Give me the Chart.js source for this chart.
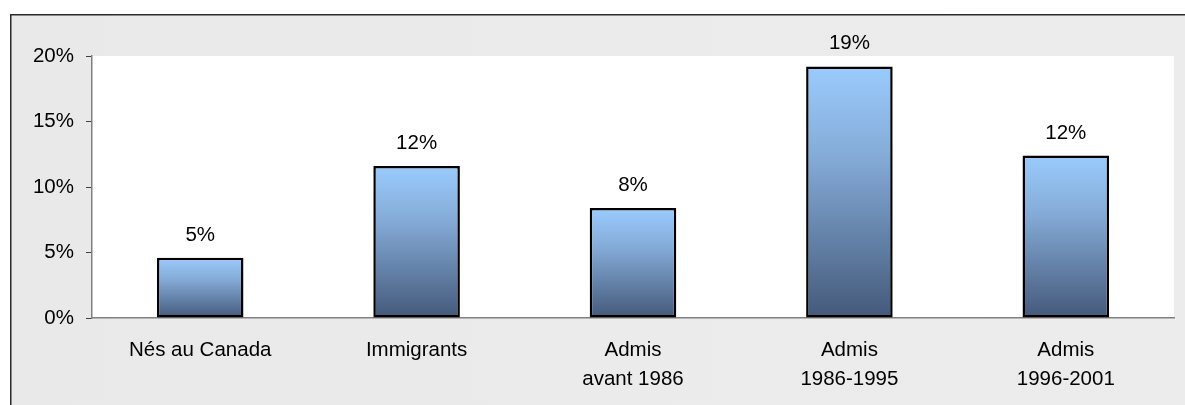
<!DOCTYPE html>
<html><head><meta charset="utf-8">
<script src="https://cdn.jsdelivr.net/npm/chart.js@4/dist/chart.umd.min.js"></script>
<style>html,body{margin:0;padding:0;background:#fff}#wrap{width:1185px;height:405px;position:relative}</style>
</head><body><div id="wrap"><canvas id="c" width="1185" height="405"></canvas></div>
<script>
const categories = [["Nés au Canada"], ["Immigrants"], ["Admis", "avant 1986"], ["Admis", "1986-1995"], ["Admis", "1996-2001"]];
const values = [4.6, 11.6, 8.4, 19.2, 12.4];
const valueLabels = ["5%", "12%", "8%", "19%", "12%"];
const yTickValues = [0, 5, 10, 15, 20];

const FONT = "'Liberation Sans', Arial, sans-serif";

const bgPlugin = {
  id: 'bg',
  beforeDraw(chart) {
    const c = chart.ctx, W = chart.width, H = chart.height, a = chart.chartArea;
    c.save();
    c.fillStyle = '#ffffff';
    c.fillRect(0, 0, W, H);
    const g = c.createLinearGradient(10, 0, W, 0);
    g.addColorStop(0, '#e9e9e9');
    g.addColorStop(0.5, '#ebebeb');
    g.addColorStop(1, '#ececec');
    c.fillStyle = g;
    c.fillRect(10, 14, W - 10, H - 14);
    c.strokeStyle = '#2a2a2a';
    c.lineWidth = 1.5;
    c.beginPath();
    c.moveTo(10.75, H + 2);
    c.lineTo(10.75, 14.75);
    c.lineTo(W + 2, 14.75);
    c.stroke();
    c.fillStyle = '#ffffff';
    c.fillRect(a.left, a.top, a.right - a.left, a.bottom - a.top);
    c.restore();
  }
};

const labelPlugin = {
  id: 'valLabels',
  afterDatasetsDraw(chart) {
    const c = chart.ctx;
    const meta = chart.getDatasetMeta(0);
    c.save();
    c.font = '20.5px ' + FONT;
    c.fillStyle = '#000';
    c.textAlign = 'center';
    c.textBaseline = 'alphabetic';
    meta.data.forEach((el, i) => {
      c.fillText(valueLabels[i], el.x, el.y - 17);
    });
    c.restore();
  }
};

new Chart(document.getElementById('c'), {
  type: 'bar',
  data: {
    labels: categories,
    datasets: [{
      data: values,
      backgroundColor: (ctx) => {
        const ch = ctx.chart;
        if (!ch.chartArea || ctx.raw === undefined) return '#7fa8d8';
        const y = ch.scales.y;
        const top = y.getPixelForValue(ctx.raw);
        const bot = y.getPixelForValue(0);
        const g = ch.ctx.createLinearGradient(0, top, 0, bot);
        g.addColorStop(0, '#9acbfd');
        g.addColorStop(0.35, '#85acd8');
        g.addColorStop(1, '#44597a');
        return g;
      },
      borderColor: '#000000',
      borderWidth: 2.5,
      borderSkipped: false,
      barPercentage: 0.4,
      categoryPercentage: 1.0
    }]
  },
  options: {
    responsive: false,
    animation: false,
    devicePixelRatio: 1,
    layout: { padding: { left: 0, top: 56, right: 11, bottom: 0 } },
    plugins: { legend: { display: false }, tooltip: { enabled: false } },
    scales: {
      x: {
        grid: { display: false, drawTicks: false },
        border: { display: true, color: '#808080', width: 1.5 },
        ticks: {
          color: '#000',
          padding: 17,
          maxRotation: 0,
          autoSkip: false,
          font: { family: FONT, size: 20.5, lineHeight: 1.45 }
        },
        afterFit(scale) { scale.height = 87; }
      },
      y: {
        min: 0,
        max: 20,
        afterBuildTicks(scale) { scale.ticks = yTickValues.map(v => ({ value: v })); },
        grid: { display: true, drawOnChartArea: false, drawTicks: true, tickLength: 6, color: '#404040' },
        border: { display: true, color: '#808080', width: 1.5 },
        ticks: {
          color: '#000',
          padding: 12,
          font: { family: FONT, size: 20.5 },
          callback: (v) => v + '%'
        },
        afterFit(scale) { scale.width = 92; }
      }
    }
  },
  plugins: [bgPlugin, labelPlugin]
});
</script>
</body></html>
